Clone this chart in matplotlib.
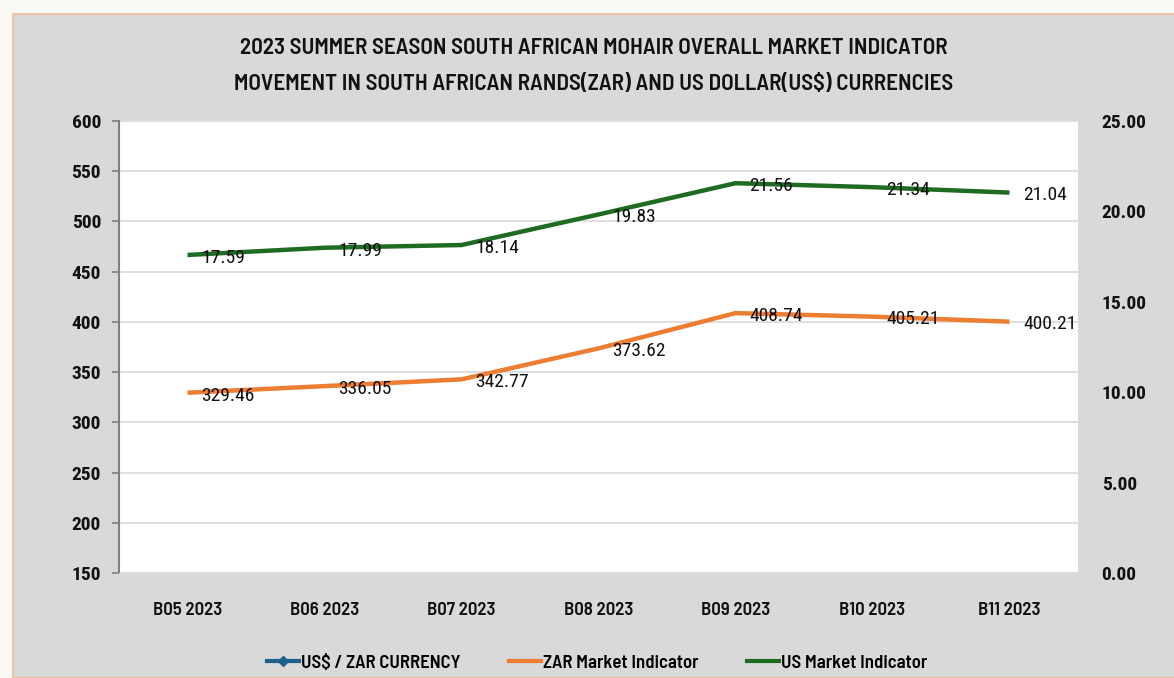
import matplotlib
matplotlib.use("Agg")
import matplotlib.pyplot as plt
from matplotlib.lines import Line2D
from matplotlib.patches import Rectangle

categories = ["B05 2023", "B06 2023", "B07 2023", "B08 2023", "B09 2023", "B10 2023", "B11 2023"]
zar_indicator = [329.46, 336.05, 342.77, 373.62, 408.74, 405.21, 400.21]
us_indicator = [17.59, 17.99, 18.14, 19.83, 21.56, 21.34, 21.04]
left_ticks = [150, 200, 250, 300, 350, 400, 450, 500, 550, 600]
right_ticks = [0, 5, 10, 15, 20, 25]
title_lines = ["2023 SUMMER SEASON SOUTH AFRICAN MOHAIR OVERALL MARKET INDICATOR",
               "MOVEMENT IN SOUTH AFRICAN RANDS(ZAR) AND US DOLLAR(US$) CURRENCIES"]

NARROW = ["Roboto Condensed", "DejaVu Sans"]
HEAD = ["Barlow Semi Condensed", "Roboto Condensed", "DejaVu Sans"]
plt.rcParams['font.family'] = NARROW

W, H = 1174, 678
fig = plt.figure(figsize=(W / 100, H / 100), dpi=100)
fig.patch.set_facecolor("#fbf9f4")
fig.add_artist(Rectangle((13 / W, 0), 1.2, 1 - 14 / H, transform=fig.transFigure,
                         facecolor="#d9d9d9", edgecolor="#f2b99a", linewidth=1.2, zorder=0))

ax = fig.add_axes([119 / W, 1 - 573 / H, (1078 - 119) / W, (573 - 121) / H])
ax.set_facecolor("white")
x = list(range(len(categories)))

orange = "#ed7d31"
green = "#1e6b22"
blue = "#1f5f8b"

ax.plot(x, zar_indicator, color=orange, lw=3.2, solid_capstyle="butt", zorder=3)
ax.set_ylim(150, 600)
ax.set_yticks(left_ticks)
ax.set_xlim(-0.5, len(categories) - 0.5)
ax.set_xticks(x)
ax.set_xticklabels(categories, fontsize=13.5, fontweight=600, color="#111111", family=HEAD)
ax.tick_params(axis="x", length=0, pad=21)
ax.tick_params(axis="y", length=5, color="#7f7f7f", width=1.2, pad=8,
               labelsize=14, labelcolor="#111111")
for lab in ax.get_yticklabels():
    lab.set_fontweight("bold")
ax.grid(axis="y", color="#d9d9d9", lw=1.2)
ax.set_axisbelow(True)
for s in ["top", "right"]:
    ax.spines[s].set_visible(False)
ax.spines["left"].set_color("#7f7f7f")
ax.spines["left"].set_linewidth(1.5)
ax.spines["bottom"].set_color("#d9d9d9")

ax2 = ax.twinx()
ax2.plot(x, us_indicator, color=green, lw=3.2, solid_capstyle="butt", zorder=3)
ax2.set_ylim(0, 25)
ax2.set_yticks(right_ticks)
ax2.set_yticklabels([f"{v:.2f}" for v in right_ticks], fontsize=14,
                    fontweight="bold", color="#111111")
ax2.tick_params(axis="y", length=0, pad=17)
for s in ["top", "right", "left", "bottom"]:
    ax2.spines[s].set_visible(False)

for xi, v in zip(x, zar_indicator):
    ax.annotate(f"{v:.2f}", (xi, v), xytext=(10, -2), textcoords="offset points",
                ha="left", va="center", fontsize=14, color="#111111", zorder=5)
for xi, v in zip(x, us_indicator):
    ax2.annotate(f"{v:.2f}", (xi, v), xytext=(10, -2), textcoords="offset points",
                 ha="left", va="center", fontsize=14, color="#111111", zorder=5)

fig.text(594 / W, 1 - 48 / H, title_lines[0], ha="center", va="center",
         fontsize=16.6, fontweight=600, color="#111111", family=HEAD)
fig.text(594 / W, 1 - 84 / H, title_lines[1], ha="center", va="center",
         fontsize=16.6, fontweight=600, color="#111111", family=HEAD)

handles = [
    Line2D([], [], color=blue, lw=3, marker="D", markersize=5),
    Line2D([], [], color=orange, lw=3),
    Line2D([], [], color=green, lw=3),
]
labels = ["US$ / ZAR CURRENCY", "ZAR Market Indicator", "US Market Indicator"]
leg = fig.legend(handles, labels, loc="center", bbox_to_anchor=(597 / W, 1 - 663 / H),
                 ncol=3, frameon=False, handlelength=1.7, handletextpad=0.1,
                 columnspacing=2.6, prop={"family": HEAD, "weight": 600, "size": 13.5})

fig.savefig("out.png", dpi=100, facecolor=fig.get_facecolor())
